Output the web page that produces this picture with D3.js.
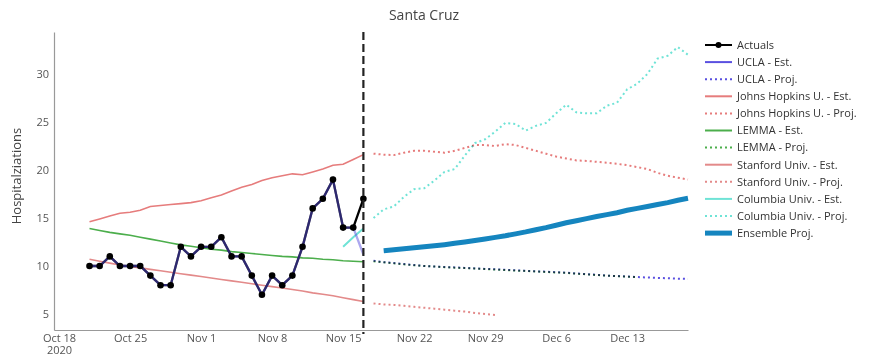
<!DOCTYPE html>
<html>
<head>
<meta charset="utf-8">
<script src="https://cdn.jsdelivr.net/npm/d3@7"></script>
<style>
body { margin: 0; background: #fff; }
svg { font-family: "Open Sans", sans-serif; }
</style>
</head>
<body>
<svg id="chart" width="870" height="358"></svg>
<script>
// data
const actualStart = "2020-10-21";
const actuals = [10,10,11,10,10,10,9,8,8,12,11,12,12,13,11,11,9,7,9,8,9,12,16,17,19,14,14,17];

const estStart = "2020-10-21";
const uclaEst = [10,10,11,10,10,10,9,8,8,12,11,12,12,13,11,11,9,7,9,8,9,12,16,17,19,14,14,11.2];
const jhuEst = [14.6,14.9,15.2,15.5,15.6,15.8,16.2,16.3,16.4,16.5,16.6,16.8,17.1,17.4,17.8,18.2,18.5,18.9,19.2,19.4,19.6,19.5,19.8,20.1,20.5,20.6,21.1,21.6];
const lemmaEst = [13.9,13.7,13.5,13.35,13.2,13.0,12.8,12.6,12.4,12.2,12.05,11.9,11.75,11.65,11.5,11.4,11.3,11.2,11.1,11.0,10.95,10.85,10.8,10.7,10.65,10.55,10.5,10.45];
const stanfordEst = [10.7,10.5,10.3,10.1,9.95,9.8,9.65,9.5,9.35,9.2,9.05,8.9,8.75,8.6,8.45,8.3,8.15,8.0,7.85,7.7,7.55,7.4,7.2,7.05,6.9,6.7,6.5,6.3];
const columbiaEstStart = "2020-11-15";
const columbiaEst = [12.0,13.0,13.9];

const projStart = "2020-11-18";
const uclaProj = [10.55,10.4,10.3,10.2,10.1,10.0,9.95,9.9,9.85,9.8,9.75,9.7,9.65,9.6,9.55,9.5,9.45,9.4,9.35,9.3,9.22,9.15,9.08,9.0,8.95,8.9,8.85,8.8,8.76,8.72,8.68,8.65];
const jhuProj = [21.7,21.6,21.55,21.8,22.0,22.0,21.9,21.8,22.0,22.3,22.6,22.6,22.5,22.7,22.6,22.3,22.0,21.7,21.4,21.2,21.0,20.95,20.85,20.75,20.65,20.5,20.3,20.1,19.7,19.4,19.2,19.0];
const lemmaProj = [10.5,10.38,10.28,10.18,10.08,10.0,9.94,9.88,9.83,9.78,9.73,9.68,9.63,9.58,9.53,9.48,9.43,9.38,9.33,9.28,9.2,9.13,9.06,9.0,8.94,8.89,8.84];
const stanfordProj = [6.1,6.0,5.95,5.85,5.75,5.65,5.55,5.45,5.35,5.25,5.1,5.0,4.9];
const columbiaProj = [15.0,15.9,16.2,17.2,18.0,18.1,18.9,19.8,20.1,21.5,22.8,23.2,24.0,24.9,24.8,24.1,24.6,24.9,25.9,26.8,26.0,25.9,25.9,26.7,27.0,28.4,29.0,30.0,31.6,31.9,32.8,32.0];
const ensembleStart = "2020-11-19";
const ensembleProj = [11.6,11.7,11.8,11.9,12.0,12.1,12.22,12.36,12.5,12.66,12.82,12.98,13.15,13.35,13.55,13.78,14.0,14.25,14.5,14.72,14.94,15.15,15.35,15.55,15.8,16.0,16.2,16.4,16.6,16.85,17.05];

const cutoffDate = "2020-11-17";
const yTicks = [5,10,15,20,25,30];
const xTickDates = ["2020-10-18","2020-10-25","2020-11-01","2020-11-08","2020-11-15","2020-11-22","2020-11-29","2020-12-06","2020-12-13"];
const xTickLabels = ["Oct 18","Oct 25","Nov 1","Nov 8","Nov 15","Nov 22","Nov 29","Dec 6","Dec 13"];
const legendLabels = ["Actuals","UCLA - Est.","UCLA - Proj.","Johns Hopkins U. - Est.","Johns Hopkins U. - Proj.","LEMMA - Est.","LEMMA - Proj.","Stanford Univ. - Est.","Stanford Univ. - Proj.","Columbia Univ. - Est.","Columbia Univ. - Proj.","Ensemble Proj."];

const parse = d3.timeParse("%Y-%m-%d");
function toPoints(start, values) {
    let s = parse(start);
    return values.map(function(v, i) { return {date: d3.timeDay.offset(s, i), value: v}; });
}

let svg = d3.select("#chart");

let x = d3.scaleTime()
    .domain([new Date(2020, 9, 17, 12), new Date(2020, 11, 19)])
    .range([54, 688]);
let y = d3.scaleLinear()
    .domain([3.333, 34.375])
    .range([330, 32]);

// title
svg.append("text")
    .attr("x", 424).attr("y", 20)
    .attr("text-anchor", "middle")
    .attr("font-size", "14px")
    .attr("fill", "#444")
    .text("Santa Cruz");

// y label
svg.append("text")
    .attr("transform", "translate(21,176)rotate(-90)")
    .attr("text-anchor", "middle")
    .attr("font-size", "13px")
    .attr("fill", "#444")
    .text("Hospitalziations");

// axes
let xAxis = svg.append("g")
    .attr("transform", "translate(0,330)")
    .call(d3.axisBottom(x)
        .tickValues(xTickDates.map(parse))
        .tickSize(0)
        .tickPadding(4)
        .tickFormat(function(d, i) { return xTickLabels[i]; }));
xAxis.select(".domain").attr("stroke", "#999").attr("stroke-width", 1.2);
xAxis.selectAll("text").attr("font-size", "11px").attr("fill", "#555").attr("font-family", "Open Sans, sans-serif");
xAxis.selectAll(".tick").filter(function(d, i) { return i === 0; })
    .append("text")
    .attr("y", 16.5).attr("dy", "0.71em")
    .attr("fill", "#555")
    .attr("font-size", "11px")
    .attr("font-family", "Open Sans, sans-serif")
    .text("2020");

let yAxis = svg.append("g")
    .attr("transform", "translate(54,0)")
    .call(d3.axisLeft(y).tickValues(yTicks).tickSize(0).tickPadding(5));
yAxis.select(".domain").attr("stroke", "#999").attr("stroke-width", 1.2);
yAxis.selectAll("text").attr("font-size", "11px").attr("fill", "#555").attr("font-family", "Open Sans, sans-serif");

let line = d3.line()
    .x(function(d) { return x(d.date); })
    .y(function(d) { return y(d.value); });

function draw(points, color, width, dash, opacity) {
    let p = svg.append("path")
        .datum(points)
        .attr("fill", "none")
        .attr("stroke", color)
        .attr("stroke-width", width)
        .attr("d", line);
    if (dash) p.attr("stroke-dasharray", dash).style("mix-blend-mode", "multiply");
    if (opacity) p.attr("stroke-opacity", opacity);
    return p;
}

const cUcla = "#5a50e0", cJhu = "#e67c7c", cLemma = "#4cae4c", cStan = "#e38a8a", cCol = "#6fe3d6", cEns = "#1585bf";

// estimates
draw(toPoints(estStart, jhuEst), cJhu, 1.6);
draw(toPoints(estStart, lemmaEst), cLemma, 1.6);
draw(toPoints(estStart, stanfordEst), cStan, 1.6);
draw(toPoints(columbiaEstStart, columbiaEst), cCol, 2);

// projections
draw(toPoints(projStart, jhuProj), cJhu, 2, "2,3");
draw(toPoints(projStart, stanfordProj), cStan, 2, "2,3");
draw(toPoints(projStart, columbiaProj), cCol, 2, "2,3");
draw(toPoints(projStart, uclaProj), cUcla, 2, "2,3");
draw(toPoints(projStart, lemmaProj), cLemma, 2, "2,3");
draw(toPoints(ensembleStart, ensembleProj), cEns, 5);

// actuals, with the UCLA fit laid over it
let act = toPoints(actualStart, actuals);
draw(act, "#000", 2.3);
draw(toPoints(estStart, uclaEst), cUcla, 2.3, null, 0.5);
svg.selectAll("circle.act")
    .data(act)
    .enter()
    .append("circle")
    .attr("class", "act")
    .attr("cx", function(d) { return x(d.date); })
    .attr("cy", function(d) { return y(d.value); })
    .attr("r", 3.3)
    .attr("fill", "#000");

// cutoff line
svg.append("line")
    .attr("x1", x(parse(cutoffDate))).attr("x2", x(parse(cutoffDate)))
    .attr("y1", 32).attr("y2", 334)
    .attr("stroke", "#222")
    .attr("stroke-width", 2.2)
    .attr("stroke-dasharray", "8,4");

// legend
let legendStyles = [
    {color: "#000", w: 2, dash: null, dot: true},
    {color: cUcla, w: 2, dash: null},
    {color: cUcla, w: 2, dash: "2,3"},
    {color: cJhu, w: 2, dash: null},
    {color: cJhu, w: 2, dash: "2,3"},
    {color: cLemma, w: 2, dash: null},
    {color: cLemma, w: 2, dash: "2,3"},
    {color: cStan, w: 2, dash: null},
    {color: cStan, w: 2, dash: "2,3"},
    {color: cCol, w: 2, dash: null},
    {color: cCol, w: 2, dash: "2,3"},
    {color: cEns, w: 5, dash: null}
];
let legend = svg.append("g").attr("transform", "translate(705,45)");
let rows = legend.selectAll("g")
    .data(legendLabels)
    .enter()
    .append("g")
    .attr("transform", function(d, i) { return "translate(0," + (i * 17.1) + ")"; });
rows.append("line")
    .attr("x1", 0).attr("x2", 27)
    .attr("stroke", function(d, i) { return legendStyles[i].color; })
    .attr("stroke-width", function(d, i) { return legendStyles[i].w; })
    .attr("stroke-dasharray", function(d, i) { return legendStyles[i].dash; });
rows.filter(function(d, i) { return legendStyles[i].dot; })
    .append("circle").attr("cx", 13.5).attr("r", 3).attr("fill", "#000");
rows.append("text")
    .attr("x", 32).attr("dy", "0.35em")
    .attr("font-size", "11px")
    .attr("fill", "#333")
    .text(function(d) { return d; });
</script>
</body>
</html>
